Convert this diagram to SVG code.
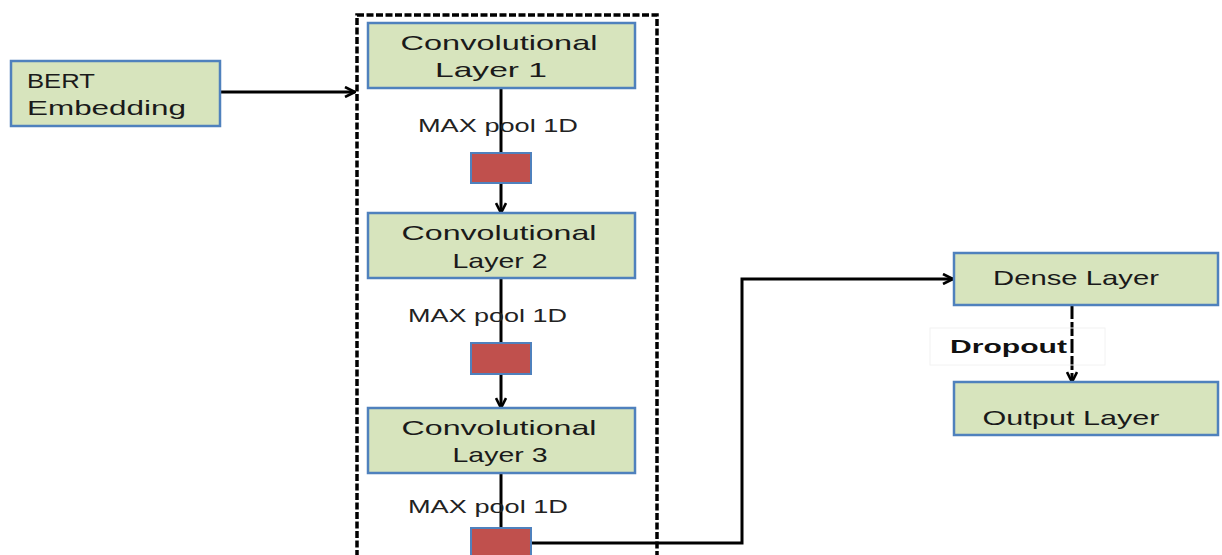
<svg xmlns="http://www.w3.org/2000/svg" width="1222" height="555" viewBox="0 0 1222 555">
  <defs>
    <style>
      .box { fill: #D7E4BD; stroke: #4F81BD; stroke-width: 2.5; }
      .pool { fill: #C0504D; stroke: #4F81BD; stroke-width: 2; }
      .lbl { font-family: "Liberation Sans", Arial, sans-serif; font-size: 21px; fill: #1a1a1a; }
      .small { font-family: "Liberation Sans", Arial, sans-serif; font-size: 18px; fill: #222; }
      .bold { font-family: "Liberation Sans", Arial, sans-serif; font-size: 19px; font-weight: bold; fill: #111; }
      .wire { fill: none; stroke: #000; stroke-width: 3; }
      .group { fill: none; stroke: #000; stroke-width: 3.5; stroke-dasharray: 7 2.5; }
    </style>
    <marker id="arrow" viewBox="0 0 12 12" refX="11" refY="6" markerWidth="12" markerHeight="12" markerUnits="userSpaceOnUse" orient="auto">
      <path d="M1,1 L11,6 L1,11" fill="none" stroke="#000" stroke-width="2.6"/>
    </marker>
  </defs>
  <rect width="1222" height="555" fill="#fff"/>

  <!-- dashed container around the convolution stack -->
  <rect id="conv-stack" class="group" x="357" y="15" width="300" height="560"/>

  <!-- connectors -->
  <g id="connectors">
    <line class="wire" x1="220" y1="92" x2="355" y2="92" marker-end="url(#arrow)"/>
    <line class="wire" x1="501" y1="88" x2="501" y2="153"/>
    <line class="wire" x1="501" y1="183" x2="501" y2="213" marker-end="url(#arrow)"/>
    <line class="wire" x1="501" y1="278" x2="501" y2="343"/>
    <line class="wire" x1="501" y1="374" x2="501" y2="408" marker-end="url(#arrow)"/>
    <line class="wire" x1="501" y1="473" x2="501" y2="528"/>
    <polyline class="wire" points="531,543 742,543 742,279 953,279" marker-end="url(#arrow)"/>
    <line class="wire" x1="1072" y1="305" x2="1072" y2="382" stroke-dasharray="14 3" marker-end="url(#arrow)"/>
  </g>

  <g id="bert">
    <rect class="box" x="11" y="61" width="209" height="65"/>
    <text class="lbl" x="27" y="88" textLength="68" lengthAdjust="spacingAndGlyphs">BERT</text>
    <text class="lbl" x="27" y="115" textLength="159" lengthAdjust="spacingAndGlyphs">Embedding</text>
  </g>

  <g id="conv1">
    <rect class="box" x="368" y="23" width="267" height="65"/>
    <text class="lbl" x="499" y="50" text-anchor="middle" textLength="197" lengthAdjust="spacingAndGlyphs">Convolutional</text>
    <text class="lbl" x="491" y="77" text-anchor="middle" textLength="112" lengthAdjust="spacingAndGlyphs">Layer 1</text>
  </g>
  <g id="pool1">
    <text class="small" x="418" y="132" textLength="160" lengthAdjust="spacingAndGlyphs">MAX pool 1D</text>
    <rect class="pool" x="471" y="153" width="60" height="30"/>
  </g>

  <g id="conv2">
    <rect class="box" x="368" y="213" width="267" height="65"/>
    <text class="lbl" x="499" y="240" text-anchor="middle" textLength="195" lengthAdjust="spacingAndGlyphs">Convolutional</text>
    <text class="lbl" x="500" y="268" text-anchor="middle" textLength="95" lengthAdjust="spacingAndGlyphs">Layer 2</text>
  </g>
  <g id="pool2">
    <text class="small" x="408" y="322" textLength="159" lengthAdjust="spacingAndGlyphs">MAX pool 1D</text>
    <rect class="pool" x="471" y="343" width="60" height="31"/>
  </g>

  <g id="conv3">
    <rect class="box" x="368" y="408" width="267" height="65"/>
    <text class="lbl" x="499" y="435" text-anchor="middle" textLength="195" lengthAdjust="spacingAndGlyphs">Convolutional</text>
    <text class="lbl" x="500" y="462" text-anchor="middle" textLength="95" lengthAdjust="spacingAndGlyphs">Layer 3</text>
  </g>
  <g id="pool3">
    <text class="small" x="408" y="513" textLength="160" lengthAdjust="spacingAndGlyphs">MAX pool 1D</text>
    <rect class="pool" x="471" y="528" width="60" height="32"/>
  </g>

  <g id="dense">
    <rect class="box" x="954" y="253" width="264" height="52"/>
    <text class="lbl" x="1076" y="285" text-anchor="middle" font-size="19" textLength="166" lengthAdjust="spacingAndGlyphs">Dense Layer</text>
  </g>

  <g id="dropout">
    <rect x="930" y="328" width="175" height="37" fill="none" stroke="#f2f2f2" stroke-width="1"/>
    <text class="bold" x="950" y="353" textLength="117" lengthAdjust="spacingAndGlyphs">Dropout</text>
  </g>

  <g id="output">
    <rect class="box" x="954" y="382" width="264" height="53"/>
    <text class="lbl" x="1071" y="425" text-anchor="middle" font-size="19" textLength="177" lengthAdjust="spacingAndGlyphs">Output Layer</text>
  </g>
</svg>
